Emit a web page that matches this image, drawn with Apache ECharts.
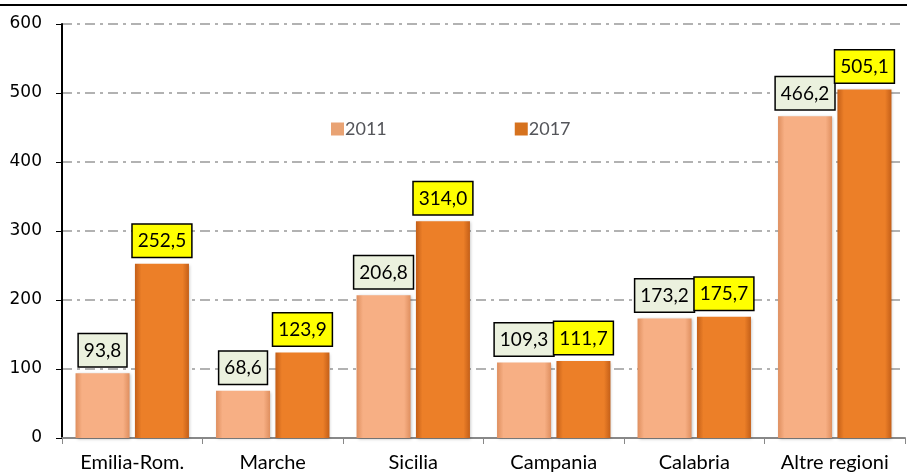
<!DOCTYPE html>
<html>
<head>
<meta charset="utf-8">
<script src="https://cdn.jsdelivr.net/npm/echarts@6/dist/echarts.min.js"></script>
<style>
  html, body { margin: 0; padding: 0; background: #fff; }
  #chart { width: 907px; height: 473px; }
</style>
</head>
<body>
<div id="chart"></div>
<script>
// dati
const regioni = ["Emilia-Rom.", "Marche", "Sicilia", "Campania", "Calabria", "Altre regioni"];
const valori2011 = [93.8, 68.6, 206.8, 109.3, 173.2, 466.2];
const valori2017 = [252.5, 123.9, 314.0, 111.7, 175.7, 505.1];
const tickY = [0, 100, 200, 300, 400, 500, 600];

const chart = echarts.init(document.getElementById("chart"));
const fmt = p => p.value.toFixed(1).replace(".", ",");

function barGrad(edge, mid) {
  // sfumatura orizzontale, bordi piu scuri
  return new echarts.graphic.LinearGradient(0, 0, 1, 0, [
    { offset: 0, color: edge },
    { offset: 0.12, color: mid },
    { offset: 0.88, color: mid },
    { offset: 1, color: edge }
  ]);
}

function boxLabel(bg) {
  return {
    show: true,
    position: "top",
    distance: 7,
    formatter: fmt,
    fontSize: 19,
    fontFamily: "Lato",
    color: "#000",
    backgroundColor: bg,
    borderColor: "#000",
    borderWidth: 1.5,
    padding: [7, 5, 6, 5]
  };
}

const option = {
  animation: false,
  textStyle: { fontFamily: "Lato", color: "#000" },
  graphic: [
    {
      type: "line",
      shape: { x1: 0, y1: 5, x2: 907, y2: 5 },
      style: { stroke: "#000", lineWidth: 2 }
    }
  ],
  legend: {
    top: 115,
    left: 326,
    itemGap: 128,
    itemWidth: 13,
    itemHeight: 13,
    textStyle: { fontSize: 18, fontFamily: "Lato", padding: [0, 0, 0, -4] },
    data: [
      { name: "2011", icon: "rect", itemStyle: { color: "#E9A374" } },
      { name: "2017", icon: "rect", itemStyle: { color: "#D6721E" } }
    ]
  },
  grid: { left: 62, right: 2, top: 24, bottom: 35, outerBoundsMode: "none" },
  xAxis: {
    type: "category",
    data: regioni,
    axisLine: { lineStyle: { color: "#888", width: 2 } },
    axisTick: { show: true, length: 6, lineStyle: { color: "#888" } },
    axisLabel: { fontSize: 20, color: "#000", margin: 15 }
  },
  yAxis: {
    type: "value",
    min: tickY[0],
    max: tickY[tickY.length - 1],
    interval: 100,
    axisLine: { show: true, lineStyle: { color: "#000", width: 2 } },
    axisTick: { show: true, length: 6, lineStyle: { color: "#000" } },
    axisLabel: { fontSize: 17, color: "#000", margin: 20, fontFamily: "DejaVu Sans" },
    splitLine: {
      lineStyle: { color: "#999", width: 1.5, type: [10, 5, 3, 5] }
    }
  },
  series: [
    {
      name: "2011",
      type: "bar",
      data: valori2011,
      barWidth: 54,
      barGap: "10%",
      itemStyle: {
        color: barGrad("#DF8F5F", "#F7AF84"),
        shadowColor: "rgba(0,0,0,0.25)",
        shadowBlur: 3,
        shadowOffsetX: 1,
        shadowOffsetY: 1
      },
      label: boxLabel("#EBF1DE")
    },
    {
      name: "2017",
      type: "bar",
      data: valori2017,
      barWidth: 54,
      itemStyle: {
        color: barGrad("#C45F18", "#EC7F28"),
        shadowColor: "rgba(0,0,0,0.25)",
        shadowBlur: 3,
        shadowOffsetX: 1,
        shadowOffsetY: 1
      },
      label: boxLabel("#FFFF00")
    }
  ]
};

chart.setOption(option);
</script>
</body>
</html>
